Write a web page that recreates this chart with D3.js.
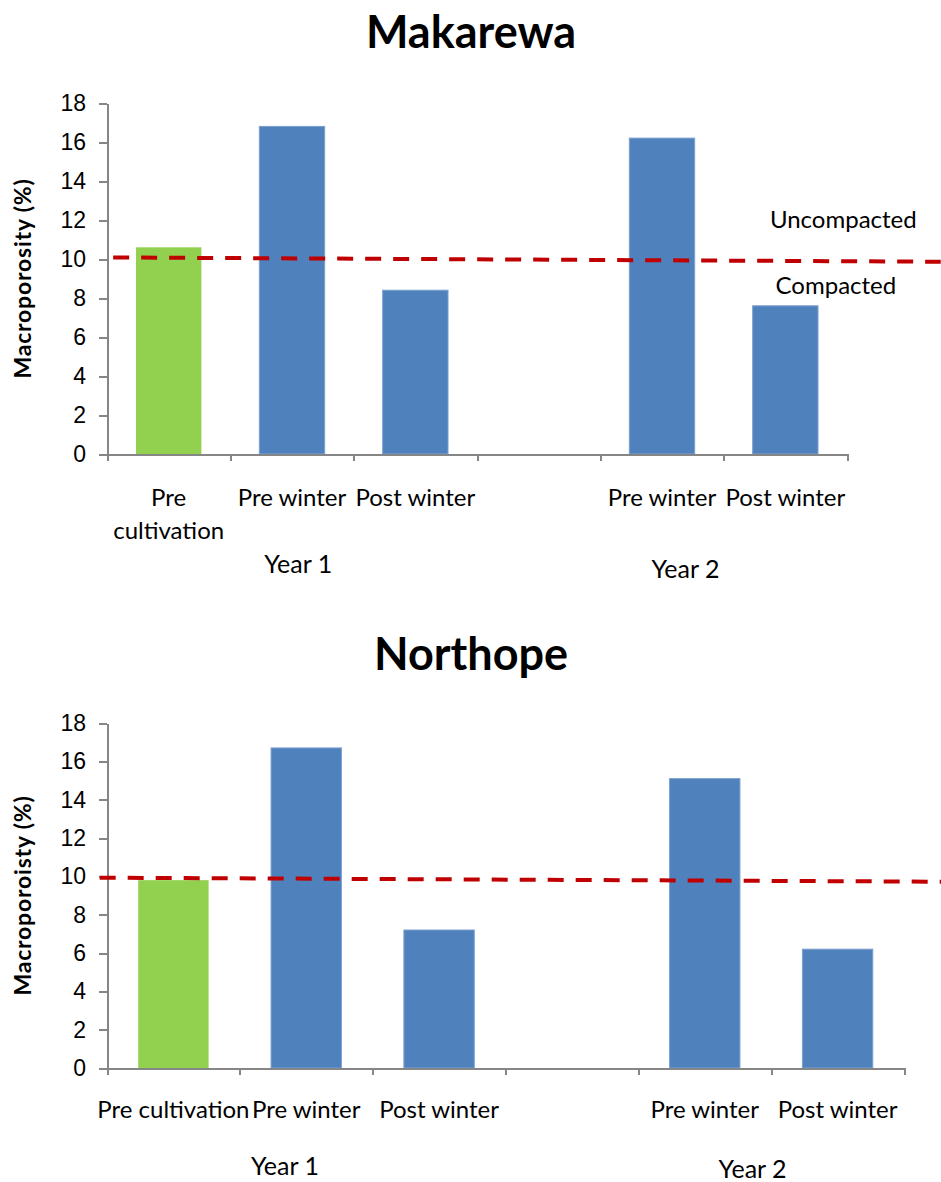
<!DOCTYPE html>
<html>
<head>
<meta charset="utf-8">
<script src="https://cdn.jsdelivr.net/npm/d3@7"></script>
<style>
    body { margin: 0; background: #fff; }
    svg { display: block; font-family: Lato, "Open Sans", sans-serif; }
    .axis path, .axis line { stroke: #868686; stroke-width: 2; shape-rendering: crispEdges; }
    .axis text { fill: #000; font-size: 23px; }
</style>
</head>
<body>
<div id="chart"></div>
<script>
// values
var categories = ["Pre cultivation", "Pre winter", "Post winter", "", "Pre winter", "Post winter"];
var makarewaValues = [10.6, 16.8, 8.4, null, 16.2, 7.6];
var northopeValues = [9.8, 16.7, 7.2, null, 15.1, 6.2];
var barColors = ["#92D050", "#4F81BD", "#4F81BD", "#4F81BD", "#4F81BD", "#4F81BD"];
var yTicks = [0, 2, 4, 6, 8, 10, 12, 14, 16, 18];
var years = ["Year 1", "Year 2"];
// threshold line: value at its left end, value at its right end
var makarewaThreshold = [10.08, 9.86];
var northopeThreshold = [9.93, 9.72];
var makarewaLabels = [["Pre", "cultivation"], ["Pre winter"], ["Post winter"], [""], ["Pre winter"], ["Post winter"]];
var northopeLabels = [["Pre cultivation"], ["Pre winter"], ["Post winter"], [""], ["Pre winter"], ["Post winter"]];

var width = 941, height = 1182;
var svg = d3.select("#chart").append("svg")
    .attr("width", width)
    .attr("height", height);

function drawChart(cfg) {
    var g = svg.append("g");

    var x = d3.scaleBand()
        .domain(d3.range(categories.length))
        .range([cfg.left, cfg.right])
        .paddingInner(0.47)
        .paddingOuter(0.235);

    // continuous version of the category axis, for ticks and annotations
    var xc = d3.scaleLinear()
        .domain([0, categories.length])
        .range([cfg.left, cfg.right]);

    var y = d3.scaleLinear()
        .domain([0, 18])
        .range([cfg.bottom, cfg.top]);

    // title
    g.append("text")
        .attr("x", 471)
        .attr("y", cfg.titleY)
        .attr("text-anchor", "middle")
        .style("font-size", "45px")
        .style("font-weight", "bold")
        .text(cfg.title);

    // y axis title
    g.append("text")
        .attr("transform", "translate(31," + ((cfg.top + cfg.bottom) / 2) + ") rotate(-90)")
        .attr("text-anchor", "middle")
        .style("font-size", "23px")
        .style("font-weight", "bold")
        .style("letter-spacing", "0.8px")
        .text(cfg.yTitle);

    // bars
    g.selectAll(".bar")
        .data(cfg.values.map(function (v, i) { return {i: i, v: v}; })
            .filter(function (d) { return d.v !== null; }))
        .enter().append("rect")
        .attr("class", "bar")
        .attr("x", function (d) { return x(d.i); })
        .attr("y", function (d) { return y(d.v); })
        .attr("width", x.bandwidth())
        .attr("height", function (d) { return y(0) - y(d.v); })
        .attr("fill", function (d) { return barColors[d.i]; })
        .attr("stroke", function (d) { return d.i === 0 ? "none" : "#7EA1CE"; })
        .attr("stroke-width", 1);

    // axes
    g.append("g")
        .attr("class", "axis")
        .attr("transform", "translate(" + cfg.left + ",0)")
        .call(d3.axisLeft(y).tickValues(yTicks).tickSize(8).tickPadding(13).tickSizeOuter(0));

    g.append("g")
        .attr("class", "axis")
        .attr("transform", "translate(0," + cfg.bottom + ")")
        .call(d3.axisBottom(xc).tickValues(d3.range(categories.length + 1))
            .tickFormat("").tickSize(7).tickSizeOuter(0));

    // category labels
    var lab = g.selectAll(".cat")
        .data(cfg.labels)
        .enter().append("text")
        .attr("class", "cat")
        .attr("text-anchor", "middle")
        .style("font-size", "24px")
        .attr("transform", function (d, i) {
            return "translate(" + (x(i) + x.bandwidth() / 2) + "," + cfg.labelY + ")";
        });
    lab.selectAll("tspan")
        .data(function (d) { return d; })
        .enter().append("tspan")
        .attr("x", 0)
        .attr("dy", function (d, j) { return j === 0 ? 0 : 33; })
        .text(function (d) { return d; });

    // year labels
    g.selectAll(".year")
        .data(years)
        .enter().append("text")
        .attr("class", "year")
        .attr("text-anchor", "middle")
        .style("font-size", "25px")
        .attr("x", function (d, i) { return xc(cfg.yearPos[i][0]); })
        .attr("y", function (d, i) { return cfg.yearPos[i][1]; })
        .text(function (d) { return d; });

    // threshold line
    g.append("line")
        .attr("x1", xc(cfg.lineExtent[0]))
        .attr("x2", xc(cfg.lineExtent[1]))
        .attr("y1", y(cfg.threshold[0]))
        .attr("y2", y(cfg.threshold[1]))
        .attr("stroke", "#C00000")
        .attr("stroke-width", 4)
        .attr("stroke-dasharray", "16,12");

    if (cfg.notes) {
        g.selectAll(".note")
            .data(cfg.notes)
            .enter().append("text")
            .attr("class", "note")
            .attr("text-anchor", "middle")
            .style("font-size", "24px")
            .attr("x", function (d) { return xc(d.x); })
            .attr("y", function (d) { return y(d.v); })
            .text(function (d) { return d.text; });
    }
}

drawChart({
    title: "Makarewa", titleY: 48,
    yTitle: "Macroporosity (%)",
    values: makarewaValues, threshold: makarewaThreshold, labels: makarewaLabels,
    left: 107, right: 847, top: 103, bottom: 454,
    labelY: 506, yearPos: [[1.55, 573], [4.69, 578]],
    lineExtent: [0.05, 6.76],
    notes: [{text: "Uncompacted", x: 5.97, v: 11.6}, {text: "Compacted", x: 5.91, v: 8.2}]
});

drawChart({
    title: "Northope", titleY: 670,
    yTitle: "Macroporoisty (%)",
    values: northopeValues, threshold: northopeThreshold, labels: northopeLabels,
    left: 107, right: 904, top: 723, bottom: 1068,
    labelY: 1118, yearPos: [[1.34, 1175], [4.86, 1178]],
    lineExtent: [-0.055, 6.28]
});
</script>
</body>
</html>
